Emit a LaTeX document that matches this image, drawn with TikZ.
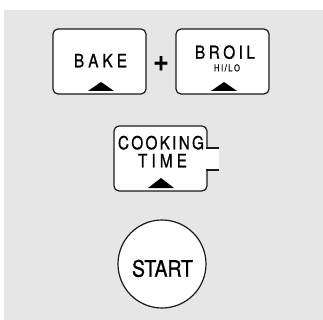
\documentclass[tikz,border=0pt]{standalone}
\usepackage{fontspec}
\setmainfont{TeX Gyre Heros}
\newfontfamily\panelfont[FakeStretch=0.85, FakeBold=0.9]{TeX Gyre Heros}
\definecolor{PanelGray}{HTML}{E6E6E6}
\definecolor{KeyLine}{HTML}{1A1A1A}
\tikzset{
  keybox/.style={draw=KeyLine, fill=white, line width=1.2pt, rounded corners=5pt},
  keylabel/.style={inner sep=0pt, text=black, anchor=base, font=\panelfont\fontsize{18}{18}\selectfont},
  keymark/.style={fill=black}
}
% letters spread evenly over a width, then fitted to width x cap height
\newcommand{\spreadtext}[3]{\resizebox{#1}{#2}{\makebox[#1][s]{#3}}}

\begin{document}
\begin{tikzpicture}[x=1pt, y=-1pt]
  \useasboundingbox (0,0) rectangle (323,320);
  \fill[PanelGray] (4,10) rectangle (323,320);

  % bake + broil
  \draw[keybox] (53,29) rectangle (146,94);
  \node[keylabel] (bake) at (100.5,67.3) {\spreadtext{53pt}{13.3pt}{B\hfil A\hfil K\hfil E}};
  \fill[keymark] (88,91) -- (114,91) -- (101,82) -- cycle;
  \node[keylabel, anchor=center, font=\bfseries\fontsize{18}{18}\selectfont] (plus) at (161,64) {\resizebox{16pt}{15pt}{+}};
  \draw[keybox] (176,29) rectangle (269,94);
  \node[keylabel] (broil) at (225,58.7) {\spreadtext{60pt}{13.3pt}{B\hfil R\hfil O\hfil I\hfil L}};
  \node[keylabel, font=\panelfont\fontsize{9}{9}\selectfont] (hilo) at (227,71.3) {\spreadtext{26pt}{7pt}{H\hfil I\hfil /\hfil L\hfil O}};
  \fill[keymark] (211,91) -- (237,91) -- (224,82) -- cycle;

  % cooking time, with tab
  \draw[keybox] (114,126) rectangle (207,191);
  \fill[white] (206,148.6) rectangle (219,169.4);
  \draw[KeyLine, line width=1.2pt] (206.4,148) -- (219,148);
  \draw[KeyLine, line width=1.2pt] (206.4,170) -- (219,170);
  \node[keylabel] (cooking) at (161,149.3) {\spreadtext{86pt}{13.5pt}{C\hfil O\hfil O\hfil K\hfil I\hfil N\hfil G}};
  \node[keylabel] (time) at (162.5,167.3) {\spreadtext{49pt}{13.3pt}{T\hfil I\hfil M\hfil E}};
  \fill[keymark] (148,188) -- (174,188) -- (161,178) -- cycle;

  % start
  \draw[keybox] (162,264) circle (44);
  \node[keylabel] (start) at (162.5,276.7) {\resizebox{61pt}{16.9pt}{START}};
\end{tikzpicture}
\end{document}
